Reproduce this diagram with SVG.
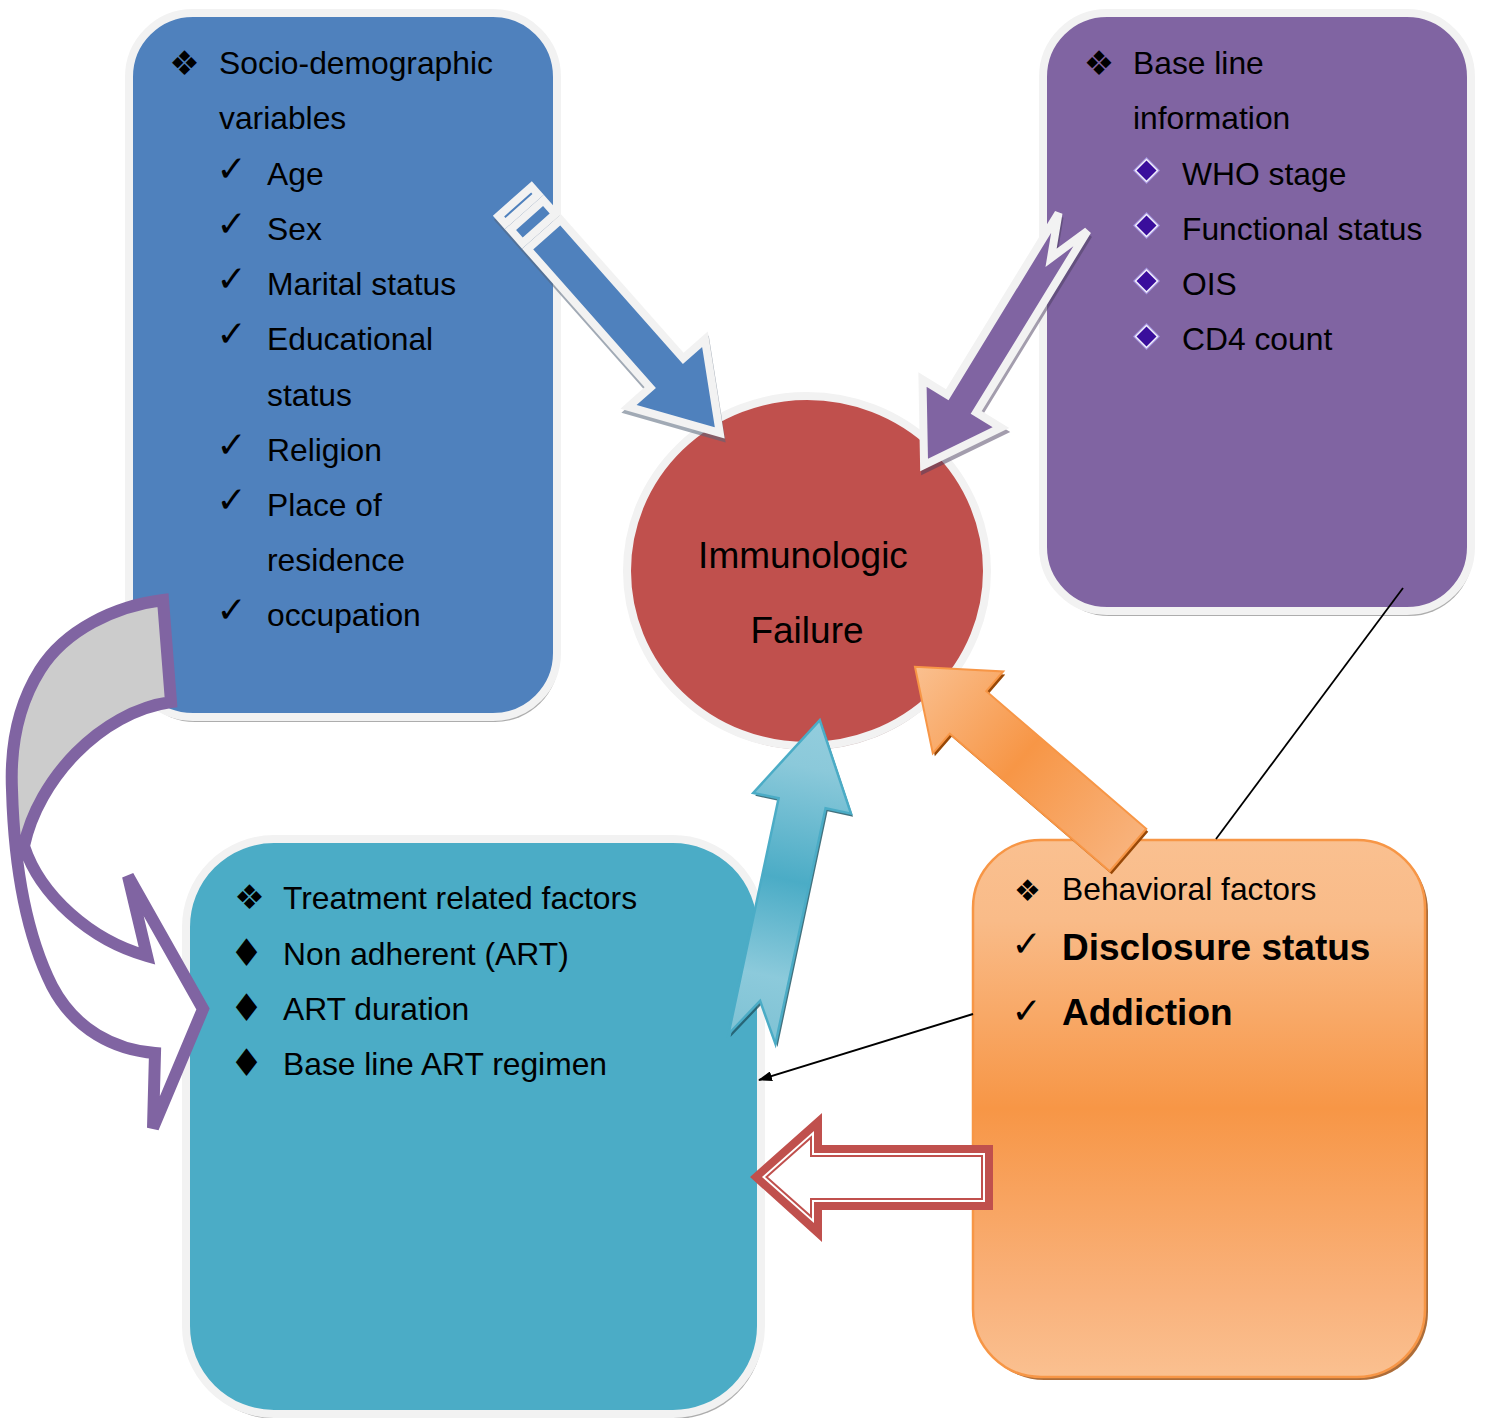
<svg xmlns="http://www.w3.org/2000/svg" width="1486" height="1418" viewBox="0 0 1486 1418">
<style>
.t{font-family:"Liberation Sans",Arial,sans-serif;font-size:31.8px;fill:#000}
.b{font-weight:bold;font-size:37px}
.c{font-size:37px}
.sym{font-family:"DejaVu Sans",sans-serif;fill:#000;text-anchor:middle}
.box{stroke:#f2f2f2;stroke-width:8}
.shadow{fill:#000;opacity:0.32}
.wbord{stroke:#f2f2f2;stroke-width:8;stroke-linejoin:miter}
</style>
<defs>
<linearGradient id="gOrange" x1="0" y1="0" x2="0" y2="1">
<stop offset="0" stop-color="#fac090"/>
<stop offset="0.15" stop-color="#f9bb88"/>
<stop offset="0.5" stop-color="#f79646"/>
<stop offset="0.85" stop-color="#f9b27c"/>
<stop offset="1" stop-color="#fac090"/>
</linearGradient>
<linearGradient id="gCyan" gradientUnits="userSpaceOnUse" x1="0" y1="0" x2="326" y2="0">
<stop offset="0" stop-color="#7fc2d4"/>
<stop offset="0.2" stop-color="#8ccadb"/>
<stop offset="0.5" stop-color="#4bacc6"/>
<stop offset="0.85" stop-color="#8bc9da"/>
<stop offset="1" stop-color="#93cddd"/>
</linearGradient>
<linearGradient id="gOrArrow" gradientUnits="userSpaceOnUse" x1="0" y1="0" x2="281" y2="0">
<stop offset="0" stop-color="#f8b27b"/>
<stop offset="0.5" stop-color="#f79646"/>
<stop offset="1" stop-color="#fac090"/>
</linearGradient>
<marker id="ah" viewBox="0 0 14 10" refX="13" refY="5" markerWidth="14" markerHeight="10" markerUnits="userSpaceOnUse" orient="auto">
<path d="M0,0 L14,5 L0,10 Z" fill="#000"/>
</marker>
<g id="pdia"><polygon points="0,-13.5 13.5,0 0,13.5 -13.5,0" fill="#a594e0"/><polygon points="0,-12 12,0 0,12 -12,0" fill="#f4f2fb"/><polygon points="0,-10 10,0 0,10 -10,0" fill="#3a0e9c"/></g>
</defs>
<rect width="1486" height="1418" fill="#fff"/>

<g id="node-socio">
<rect class="shadow" x="131" y="18" width="428" height="704" rx="64"/>
<rect class="box" x="129" y="13" width="428" height="704" rx="64" fill="#4f81bd"/>
<text class="sym" x="184.5" y="74.5" font-size="34">❖</text>
<text class="t" x="219" y="74">Socio-demographic</text>
<text class="t" x="219" y="129">variables</text>
<text class="sym" x="231.5" y="181" font-size="36">✓</text>
<text class="t" x="267" y="185">Age</text>
<text class="sym" x="231.5" y="236" font-size="36">✓</text>
<text class="t" x="267" y="240">Sex</text>
<text class="sym" x="231.5" y="291" font-size="36">✓</text>
<text class="t" x="267" y="295">Marital status</text>
<text class="sym" x="231.5" y="346" font-size="36">✓</text>
<text class="t" x="267" y="350">Educational</text>
<text class="t" x="267" y="406">status</text>
<text class="sym" x="231.5" y="457" font-size="36">✓</text>
<text class="t" x="267" y="461">Religion</text>
<text class="sym" x="231.5" y="512" font-size="36">✓</text>
<text class="t" x="267" y="516">Place of</text>
<text class="t" x="267" y="571">residence</text>
<text class="sym" x="231.5" y="622" font-size="36">✓</text>
<text class="t" x="267" y="626">occupation</text>
</g>

<g id="node-baseline">
<rect class="shadow" x="1045" y="18" width="428" height="598" rx="64"/>
<rect class="box" x="1043" y="13" width="428" height="598" rx="64" fill="#8064a2"/>
<text class="sym" x="1099" y="74.5" font-size="34">❖</text>
<text class="t" x="1133" y="74">Base line</text>
<text class="t" x="1133" y="129">information</text>
<g id="purple-bullets">
<use href="#pdia" transform="translate(1146.5,170.5)"/>
<use href="#pdia" transform="translate(1146.5,225.5)"/>
<use href="#pdia" transform="translate(1146.5,281)"/>
<use href="#pdia" transform="translate(1146.5,336.5)"/>
</g>
<text class="t" x="1182" y="185">WHO stage</text>
<text class="t" x="1182" y="240">Functional status</text>
<text class="t" x="1182" y="295">OIS</text>
<text class="t" x="1182" y="350">CD4 count</text>
</g>

<g id="node-treatment">
<rect class="shadow" x="188" y="844" width="575" height="575" rx="88"/>
<rect class="box" x="186" y="839" width="575" height="575" rx="88" fill="#4bacc6"/>
<text class="sym" x="249.5" y="909" font-size="34">❖</text>
<text class="t" x="283" y="909">Treatment related factors</text>
<text class="sym" x="246.5" y="966" font-size="38">♦</text>
<text class="t" x="283" y="965">Non adherent (ART)</text>
<text class="sym" x="246.5" y="1021" font-size="38">♦</text>
<text class="t" x="283" y="1020">ART duration</text>
<text class="sym" x="246.5" y="1076" font-size="38">♦</text>
<text class="t" x="283" y="1075">Base line ART regimen</text>
</g>

<g id="node-behavioral">
<rect x="976" y="843" width="452" height="537" rx="68" fill="#984807" opacity="0.8"/>
<rect x="973" y="840" width="452" height="537" rx="68" fill="url(#gOrange)" stroke="#f79646" stroke-width="2.5"/>
<text class="sym" x="1027.5" y="900.5" font-size="30">❖</text>
<text class="t" x="1062" y="900">Behavioral factors</text>
<text class="sym" x="1026.5" y="956" font-size="36">✓</text>
<text class="t b" x="1062" y="960">Disclosure status</text>
<text class="sym" x="1026.5" y="1023" font-size="36">✓</text>
<text class="t b" x="1062" y="1025">Addiction</text>
</g>

<g id="node-failure">
<ellipse cx="808" cy="575" rx="180" ry="175" fill="#8a5a5a" opacity="0.45"/>
<ellipse cx="807" cy="571" rx="180" ry="175" fill="#c0504d" stroke="#f2f2f2" stroke-width="8"/>
<text class="t c" x="803" y="568" text-anchor="middle">Immunologic</text>
<text class="t c" x="807" y="643" text-anchor="middle">Failure</text>
</g>

<g id="connectors">
<g id="arrow-socio">
<g transform="translate(1,4) translate(515,201.5) rotate(48.5)" fill="#55657a" stroke="#55657a" stroke-width="8" opacity="0.55">
<rect x="0" y="-22" width="10" height="44"/><rect x="18" y="-22" width="18" height="44"/>
<path d="M44,-22 L229,-22 L229,-51 L309,0 L229,51 L229,22 L44,22 Z"/>
</g>
<g transform="translate(515,201.5) rotate(48.5)" fill="#4f81bd" class="wbord">
<rect x="0" y="-22" width="10" height="44"/><rect x="18" y="-22" width="18" height="44"/>
<path d="M44,-22 L229,-22 L229,-51 L309,0 L229,51 L229,22 L44,22 Z"/>
</g>
</g>
<g id="arrow-baseline">
<path transform="translate(1,4) translate(1073,222) rotate(121.5)" d="M0,-17 L213,-17 L213,-46 L285,0 L213,46 L213,17 L0,17 L42,0 Z" fill="#4a3d5e" stroke="#4a3d5e" stroke-width="8" opacity="0.5"/>
<path transform="translate(1073,222) rotate(121.5)" d="M0,-17 L213,-17 L213,-46 L285,0 L213,46 L213,17 L0,17 L42,0 Z" fill="#8064a2" class="wbord"/>
</g>
<g id="arrow-behav-failure">
<path transform="translate(2,3) translate(1128,850) rotate(-139.3)" d="M0,-28 L211,-28 L211,-54 L281,0 L211,54 L211,28 L0,28 Z" fill="#984807"/>
<path transform="translate(1128,850) rotate(-139.3)" d="M0,-28 L211,-28 L211,-54 L281,0 L211,54 L211,28 L0,28 Z" fill="url(#gOrArrow)" stroke="#f79646" stroke-width="2"/>
</g>
<g id="arrow-treat-failure">
<path transform="translate(2,3) translate(752,1039) rotate(-78)" d="M0,-24 L241,-24 L241,-50 L326,0 L241,50 L241,24 L0,24 L39,0 Z" fill="#215968" opacity="0.85"/>
<path transform="translate(752,1039) rotate(-78)" d="M0,-24 L241,-24 L241,-50 L326,0 L241,50 L241,24 L0,24 L39,0 Z" fill="url(#gCyan)" stroke="#4bacc6" stroke-width="2.5"/>
</g>
<g id="arrow-curved">
<path d="M163,600 C115,606 65,630 40,670 C18,705 10,745 12,790 C13,812 16,830 24,846 C38,780 100,712 171,702 Z" fill="#cccccc"/>
<path d="M24,846 C40,895 90,940 147,956 L128,876 L203,1009 L153,1128 L155,1053 C115,1050 75,1030 52,986 C30,945 18,890 24,846 Z" fill="#ffffff"/>
<path d="M171,702 L163,600 C115,606 65,630 40,670 C18,705 10,745 12,790 C14,860 24,930 52,986 C75,1030 115,1050 155,1053 L153,1128 L203,1009 L128,876 L147,956 C90,940 40,895 24,846 C38,780 100,712 171,702 Z" fill="none" stroke="#8064a2" stroke-width="12" stroke-linejoin="miter"/>
</g>
<g id="arrow-behav-treat">
<polygon points="750,1177 822,1113 822,1145 993,1145 993,1210 822,1210 822,1242" fill="#c0504d"/>
<polygon points="762,1177 814,1131 814,1153 985,1153 985,1202 814,1202 814,1223" fill="#fff"/>
<polygon points="766.5,1177 811,1137.5 811,1156 982,1156 982,1199 811,1199 811,1216.5" fill="#fff" stroke="#c0504d" stroke-width="2"/>
</g>
<line id="line-behav-treat" x1="973" y1="1014" x2="759" y2="1080" stroke="#000" stroke-width="2" marker-end="url(#ah)"/>
<line id="line-baseline-behav" x1="1403" y1="588" x2="1216" y2="839" stroke="#000" stroke-width="1.8"/>
</g>
</svg>
